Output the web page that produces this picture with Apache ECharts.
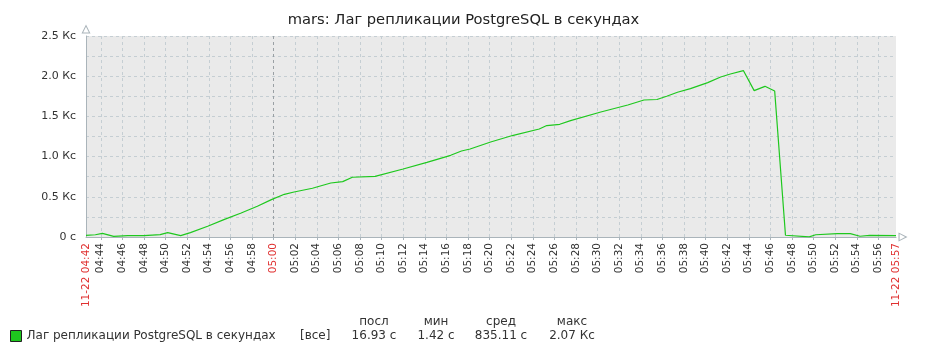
<!DOCTYPE html>
<html>
<head>
<meta charset="utf-8">
<script src="https://cdn.jsdelivr.net/npm/echarts@6/dist/echarts.min.js"></script>
<style>
  html, body { margin: 0; padding: 0; background: #fff; }
  #chart { width: 927px; height: 354px; }
</style>
</head>
<body>
<div id="chart"></div>
<script>
// replication lag (time -> seconds)
var times = ['04:42:38', '04:43:30', '04:44:09', '04:45:12', '04:46:30', '04:48:00', '04:49:30', '04:50:12',
  '04:51:24', '04:52:18', '04:53:54', '04:55:24', '04:57:00', '04:58:30', '04:59:48', '05:01:00', '05:01:54',
  '05:03:36', '05:05:18', '05:06:24', '05:07:18', '05:09:24', '05:12:00', '05:14:12', '05:16:24', '05:17:24',
  '05:18:12', '05:20:06', '05:22:12', '05:24:36', '05:25:18', '05:26:30', '05:27:30', '05:30:18', '05:32:48',
  '05:34:18', '05:35:30', '05:36:24', '05:37:24', '05:38:36', '05:40:12', '05:41:24', '05:42:18', '05:43:30',
  '05:44:30', '05:45:30', '05:46:24', '05:47:24', '05:49:36', '05:50:12', '05:52:12', '05:53:24', '05:54:18',
  '05:55:12', '05:57:38'];
var lagValues = [21, 28, 46, 8, 16, 18, 30, 55,
  18, 55, 133, 216, 299, 382, 465, 531, 560,
  606, 672, 689, 743, 755, 846, 929, 1016, 1070,
  1095, 1182, 1265, 1343, 1386, 1402, 1448, 1555, 1642,
  1704, 1710, 1750, 1800, 1846, 1920, 1990, 2027, 2070,
  1821, 1874, 1816, 22, 1.42, 28, 42, 42, 9,
  20, 16.93];

var seriesName = 'Лаг репликации PostgreSQL в секундах';
var startTime = '04:42:38';
var endTime = '05:57:38';
var dateLabel = '11-22';
var yTicks = [0, 500, 1000, 1500, 2000, 2500];
var yTickLabels = ['0 с', '0.5 Кс', '1.0 Кс', '1.5 Кс', '2.0 Кс', '2.5 Кс'];
var xTickMinutes = [44, 46, 48, 50, 52, 54, 56, 58, 60, 62, 64, 66, 68, 70, 72, 74, 76, 78, 80,
  82, 84, 86, 88, 90, 92, 94, 96, 98, 100, 102, 104, 106, 108, 110, 112, 114, 116];
var statHeaders = ['посл', 'мин', 'сред', 'макс'];
var statValues = ['16.93 с', '1.42 с', '835.11 с', '2.07 Кс'];

// minutes since 04:00
function toMin(t) {
  var p = t.split(':');
  return (+p[0] - 4) * 60 + (+p[1]) + (+p[2] || 0) / 60;
}
function fmtMin(m) {
  var h = 4 + Math.floor(m / 60);
  var mm = Math.round(m % 60);
  return '0' + h + ':' + (mm < 10 ? '0' : '') + mm;
}

var xMin = toMin(startTime);
var xMax = toMin(endTime);
var lineData = times.map(function (t, i) { return [toMin(t), lagValues[i]]; });
var labelValues = [xMin].concat(xTickMinutes).concat([xMax]);

var chart = echarts.init(document.getElementById('chart'));
var font = 'DejaVu Sans';
var gridColor = '#c5ced3';
// hollow arrow head (outer triangle minus inner one)
var hollowArrow = 'path://M5,0L10,10L0,10Z M5,2.6L1.8,8.8L8.2,8.8Z';

var statX = [374, 436, 501, 572];
var graphics = [{
  type: 'text', x: 300, y: 336,
  style: { text: '[все]', font: '12px "DejaVu Sans"', fill: '#333', verticalAlign: 'middle' }
}];
statHeaders.forEach(function (h, i) {
  graphics.push({
    type: 'text', x: statX[i], y: 322,
    style: { text: h, font: '12px "DejaVu Sans"', fill: '#333', align: 'center', verticalAlign: 'middle' }
  });
  graphics.push({
    type: 'text', x: statX[i], y: 336,
    style: { text: statValues[i], font: '12px "DejaVu Sans"', fill: '#333', align: 'center', verticalAlign: 'middle' }
  });
});

var option = {
  animation: false,
  textStyle: { fontFamily: font },
  title: {
    text: 'mars: ' + seriesName,
    left: 'center',
    top: 8,
    textStyle: { fontFamily: font, fontSize: 14.7, fontWeight: 'normal', color: '#222' }
  },
  legend: {
    data: [seriesName],
    left: 10,
    top: 330,
    padding: 0,
    icon: 'rect',
    itemWidth: 11,
    itemHeight: 11,
    itemStyle: { borderColor: '#222', borderWidth: 1 },
    textStyle: { fontFamily: font, fontSize: 12, color: '#333' }
  },
  grid: {
    left: 86, right: 31, top: 36, bottom: 117,
    show: true,
    backgroundColor: '#eaeaea',
    borderWidth: 0,
    outerBoundsMode: 'none'
  },
  xAxis: {
    type: 'value',
    min: xMin,
    max: xMax,
    axisLine: {
      show: true,
      lineStyle: { color: '#aab4ba', width: 1 },
      symbol: ['none', hollowArrow],
      symbolSize: [9, 9],
      symbolOffset: [0, 7]
    },
    axisTick: {
      show: true, length: 3, lineStyle: { color: '#aab4ba' },
      customValues: xTickMinutes
    },
    splitLine: { show: true, lineStyle: { color: gridColor, type: [3, 3], width: 1 } },
    axisLabel: {
      customValues: labelValues,
      rotate: 90,
      margin: 6,
      fontFamily: font,
      fontSize: 10.5,
      formatter: function (v) {
        if (Math.abs(v - xMin) < 0.01) return dateLabel + ' ' + fmtMin(Math.floor(v));
        if (Math.abs(v - xMax) < 0.01) return dateLabel + ' ' + fmtMin(Math.floor(v));
        return fmtMin(v);
      },
      color: function (v) {
        v = +v;
        if (Math.abs(v - xMin) < 0.01 || Math.abs(v - xMax) < 0.01 || Math.abs(v - 60) < 0.01) return '#e03030';
        return '#333';
      }
    }
  },
  yAxis: {
    type: 'value',
    min: 0,
    max: 2500,
    interval: 250,
    axisLine: {
      show: true,
      lineStyle: { color: '#aab4ba', width: 1 },
      symbol: ['none', hollowArrow],
      symbolSize: [9, 9],
      symbolOffset: [0, 7]
    },
    axisTick: { show: false },
    splitLine: { show: true, lineStyle: { color: gridColor, type: [3, 3], width: 1 } },
    axisLabel: {
      margin: 10,
      fontFamily: font,
      fontSize: 11,
      color: '#333',
      formatter: function (v) {
        var i = yTicks.indexOf(v);
        return i >= 0 ? yTickLabels[i] : '';
      }
    }
  },
  series: [{
    name: seriesName,
    type: 'line',
    data: lineData,
    showSymbol: false,
    symbol: 'none',
    color: '#1ec81e',
    lineStyle: { width: 1.2, color: '#1ec81e' },
    markLine: {
      silent: true,
      symbol: 'none',
      label: { show: false },
      lineStyle: { color: '#9aa0a4', type: [3, 3], width: 1 },
      data: [{ xAxis: 60 }],
      z: 1
    },
    z: 3
  }],
  graphic: graphics
};

chart.setOption(option);
</script>
</body>
</html>
